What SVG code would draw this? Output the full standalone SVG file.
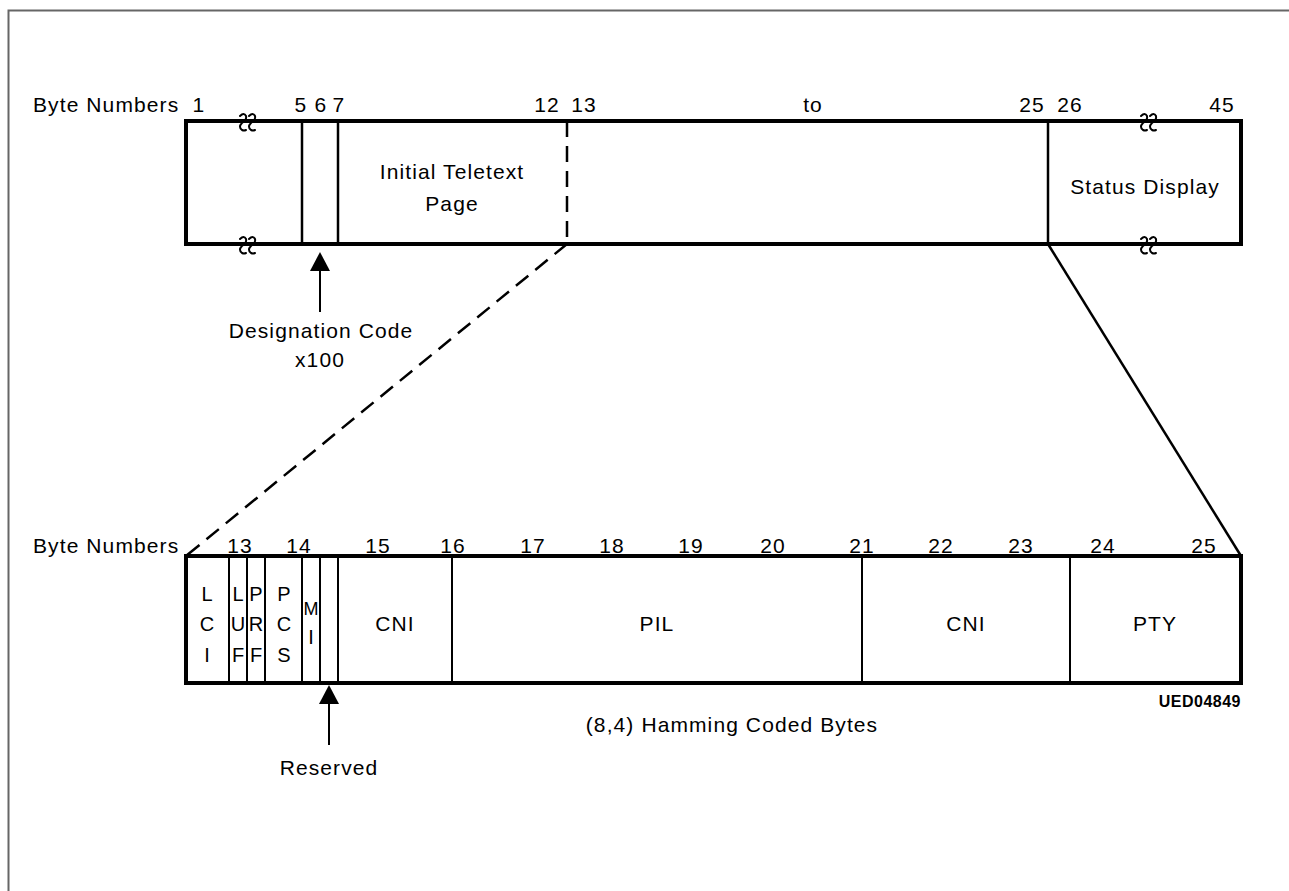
<svg xmlns="http://www.w3.org/2000/svg" width="1289" height="891" viewBox="0 0 1289 891">
<style>
text{font-family:"Liberation Sans","DejaVu Sans",sans-serif;font-size:21px;letter-spacing:1.1px;fill:#000}
.c{text-anchor:middle}
.n{font-size:20px;letter-spacing:0}
.box{fill:none;stroke:#000;stroke-width:4}
.thin{stroke:#000;stroke-width:2;fill:none}
.mid{stroke:#000;stroke-width:2.5;fill:none}
.brk{stroke:#000;stroke-width:2;fill:none;stroke-linecap:round}
.ah{fill:#000}
</style>
<rect width="1289" height="891" fill="#fff"/>
<path d="M8.5 891 V10.5 H1289" fill="none" stroke="#666" stroke-width="2"/>

<g id="top-frame">
<text x="33" y="112">Byte  Numbers</text>
<text x="199" y="112" class="c">1</text>
<text x="301" y="112" class="c">5</text>
<text x="321" y="112" class="c">6</text>
<text x="339" y="112" class="c">7</text>
<text x="547" y="112" class="c">12</text>
<text x="584" y="112" class="c">13</text>
<text x="813" y="112" class="c">to</text>
<text x="1032" y="112" class="c">25</text>
<text x="1070" y="112" class="c">26</text>
<text x="1222" y="112" class="c">45</text>
<rect class="box" x="186" y="121" width="1055" height="123"/>
<line class="mid" x1="302" y1="121" x2="302" y2="244"/>
<line class="mid" x1="338" y1="121" x2="338" y2="244"/>
<line class="mid" x1="567" y1="121" x2="567" y2="244" stroke-dasharray="16 9"/>
<line class="mid" x1="1048" y1="121" x2="1048" y2="244"/>
<path class="brk" d="M240 116 q4 -4 6 0 q1 4 -4 7 q-4 4 0 7 q2 1 4 0 M249 116 q4 -4 6 0 q1 4 -4 7 q-4 4 0 7 q2 1 4 0"/>
<path class="brk" d="M240 239 q4 -4 6 0 q1 4 -4 7 q-4 4 0 7 q2 1 4 0 M249 239 q4 -4 6 0 q1 4 -4 7 q-4 4 0 7 q2 1 4 0"/>
<path class="brk" d="M1141 116 q4 -4 6 0 q1 4 -4 7 q-4 4 0 7 q2 1 4 0 M1150 116 q4 -4 6 0 q1 4 -4 7 q-4 4 0 7 q2 1 4 0"/>
<path class="brk" d="M1141 239 q4 -4 6 0 q1 4 -4 7 q-4 4 0 7 q2 1 4 0 M1150 239 q4 -4 6 0 q1 4 -4 7 q-4 4 0 7 q2 1 4 0"/>
<text x="452" y="179" class="c">Initial  Teletext</text>
<text x="452" y="211" class="c">Page</text>
<text x="1145" y="194" class="c">Status  Display</text>
</g>

<g id="designation">
<line class="thin" x1="320" y1="312" x2="320" y2="268"/>
<polygon class="ah" points="320,252 330,271 310,271"/>
<text x="321" y="338" class="c">Designation  Code</text>
<text x="320" y="367" class="c">x100</text>
</g>

<g id="connectors">
<line class="mid" x1="567" y1="244" x2="186" y2="556" stroke-dasharray="16 9"/>
<line class="mid" x1="1048" y1="244" x2="1241" y2="556"/>
</g>

<g id="bottom-frame">
<text x="33" y="553">Byte  Numbers</text>
<text x="240" y="553" class="c">13</text>
<text x="299" y="553" class="c">14</text>
<text x="378" y="553" class="c">15</text>
<text x="453" y="553" class="c">16</text>
<text x="533" y="553" class="c">17</text>
<text x="612" y="553" class="c">18</text>
<text x="691" y="553" class="c">19</text>
<text x="773" y="553" class="c">20</text>
<text x="862" y="553" class="c">21</text>
<text x="941" y="553" class="c">22</text>
<text x="1021" y="553" class="c">23</text>
<text x="1103" y="553" class="c">24</text>
<text x="1204" y="553" class="c">25</text>
<rect class="box" x="186" y="556" width="1055" height="127"/>
<line class="thin" x1="229" y1="556" x2="229" y2="683"/>
<line class="thin" x1="247" y1="556" x2="247" y2="683"/>
<line class="thin" x1="265" y1="556" x2="265" y2="683"/>
<line class="thin" x1="302" y1="556" x2="302" y2="683"/>
<line class="thin" x1="320" y1="556" x2="320" y2="683"/>
<line class="thin" x1="338" y1="556" x2="338" y2="683"/>
<line class="thin" x1="452" y1="556" x2="452" y2="683"/>
<line class="thin" x1="862" y1="556" x2="862" y2="683"/>
<line class="thin" x1="1070" y1="556" x2="1070" y2="683"/>
<text x="207" y="601" class="c n">L</text>
<text x="207" y="631" class="c n">C</text>
<text x="207" y="662" class="c n">I</text>
<text x="238" y="601" class="c n">L</text>
<text x="238" y="631" class="c n">U</text>
<text x="238" y="662" class="c n">F</text>
<text x="256" y="601" class="c n">P</text>
<text x="256" y="631" class="c n">R</text>
<text x="256" y="662" class="c n">F</text>
<text x="284" y="601" class="c n">P</text>
<text x="284" y="631" class="c n">C</text>
<text x="284" y="662" class="c n">S</text>
<text x="311" y="615" class="c n" style="font-size:18px">M</text>
<text x="311" y="644" class="c n">I</text>
<text x="395" y="631" class="c">CNI</text>
<text x="657" y="631" class="c">PIL</text>
<text x="966" y="631" class="c">CNI</text>
<text x="1155" y="631" class="c">PTY</text>
<text x="1241" y="707" text-anchor="end" style="font-size:16px;font-weight:bold;letter-spacing:0.5px">UED04849</text>
<text x="732" y="732" class="c">(8,4)  Hamming  Coded  Bytes</text>
</g>

<g id="reserved">
<line class="thin" x1="329" y1="745" x2="329" y2="700"/>
<polygon class="ah" points="329,685 339,704 319,704"/>
<text x="329" y="775" class="c">Reserved</text>
</g>
</svg>
